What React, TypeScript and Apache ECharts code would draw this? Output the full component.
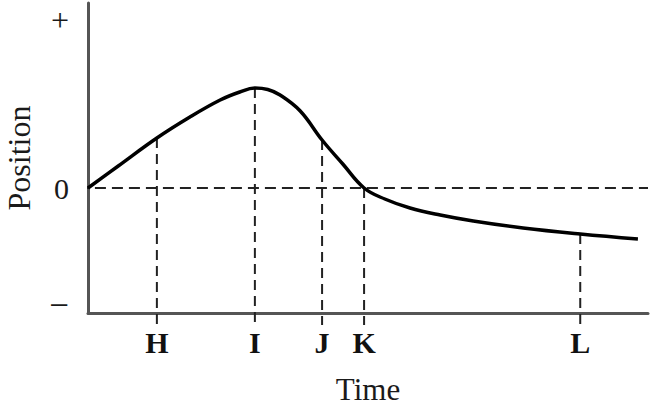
import React, { useEffect, useRef } from "react";
import * as echarts from "echarts";

// Curve: time (arbitrary units) vs position (arbitrary units)
const curveTime = [0, 0.54, 1.23, 1.82, 2.36, 2.71, 2.98, 3.21, 3.43, 3.79, 4.18, 4.55, 4.93, 5.3, 5.75, 6.29, 6.88, 7.77, 8.79, 9.82];
const curvePos = [0, 0.44, 1.0, 1.42, 1.76, 1.92, 2.0, 1.97, 1.86, 1.54, 0.96, 0.48, 0, -0.22, -0.4, -0.54, -0.66, -0.8, -0.92, -1.02];

// Marked instants
const markNames = ["H", "I", "J", "K", "L"];
const markTime = [1.23, 2.98, 4.18, 4.93, 8.79];
const markPos = [1.0, 2.0, 0.96, 0, -0.92];

// Y tick labels
const yTickValues = [-2.34, 0, 3.37];
const yTickLabels = ["{m|−}", "0", "{p|+}"];

const X_MIN = 0;
const X_MAX = 10;
const Y_MIN = -2.5;
const Y_MAX = 3.7;
const DROP_END = -2.74;
const ZERO_START = -0.18;

const SERIF = "'Liberation Serif', 'DejaVu Serif', serif";

export default function App() {
  const ref = useRef<HTMLDivElement>(null);
  useEffect(() => {
    if (!ref.current) return;
    const chart = echarts.init(ref.current, undefined, { renderer: "svg" });
    const nearestIdx = (arr: number[], v: number) => {
      let best = 0;
      for (let i = 1; i < arr.length; i++) if (Math.abs(arr[i] - v) < Math.abs(arr[best] - v)) best = i;
      return best;
    };
    const dropSeries = markTime.map((t, i) => ({
      type: "line",
      data: [
        [t, markPos[i]],
        [t, DROP_END],
      ],
      symbol: "none",
      clip: false,
      silent: true,
      lineStyle: { color: "#222", width: 2, type: [10, 6] },
      z: 1,
    }));
    chart.setOption({
      animation: false,
      grid: { left: 88, right: 2, top: 3, bottom: 96, outerBoundsMode: "none", containLabel: false },
      xAxis: {
        type: "value",
        min: X_MIN,
        max: X_MAX,
        name: "Time",
        nameLocation: "middle",
        nameGap: 61,
        nameTextStyle: { fontFamily: SERIF, fontSize: 31, color: "#1a1a1a" },
        axisLine: { onZero: false, lineStyle: { color: "#555", width: 3 } },
        axisTick: { show: false },
        splitLine: { show: false },
        axisLabel: {
          customValues: markTime,
          formatter: (v: number) => markNames[nearestIdx(markTime, v)],
          fontFamily: SERIF,
          fontWeight: "bold",
          fontSize: 30,
          color: "#111",
          margin: 14,
        },
      },
      yAxis: {
        type: "value",
        min: Y_MIN,
        max: Y_MAX,
        name: "Position",
        nameLocation: "middle",
        nameGap: 54,
        nameTextStyle: { fontFamily: SERIF, fontSize: 32, lineHeight: 30, color: "#1a1a1a" },
        axisLine: { onZero: false, lineStyle: { color: "#555", width: 3 } },
        axisTick: { show: false },
        splitLine: { show: false },
        axisLabel: {
          customValues: yTickValues,
          formatter: (v: number) => yTickLabels[nearestIdx(yTickValues, v)],
          fontFamily: SERIF,
          fontSize: 30,
          color: "#1a1a1a",
          margin: 19,
          rich: {
            m: { fontFamily: SERIF, fontSize: 35, lineHeight: 22, color: "#1a1a1a" },
            p: { fontFamily: SERIF, fontSize: 32, lineHeight: 22, color: "#1a1a1a" },
          },
        },
      },
      series: [
        {
          type: "line",
          data: [
            [ZERO_START, 0],
            [X_MAX, 0],
          ],
          symbol: "none",
          clip: false,
          silent: true,
          lineStyle: { color: "#222", width: 2, type: [11, 6] },
          z: 1,
        },
        ...dropSeries,
        {
          type: "line",
          data: curveTime.map((t, i) => [t, curvePos[i]]),
          smooth: 0.4,
          symbol: "none",
          lineStyle: { color: "#000", width: 3.5 },
          z: 3,
        },
      ],
    });
    return () => chart.dispose();
  }, []);
  return <div ref={ref} style={{ width: 650, height: 409, position: "absolute", left: 0, top: 0 }} />;
}
